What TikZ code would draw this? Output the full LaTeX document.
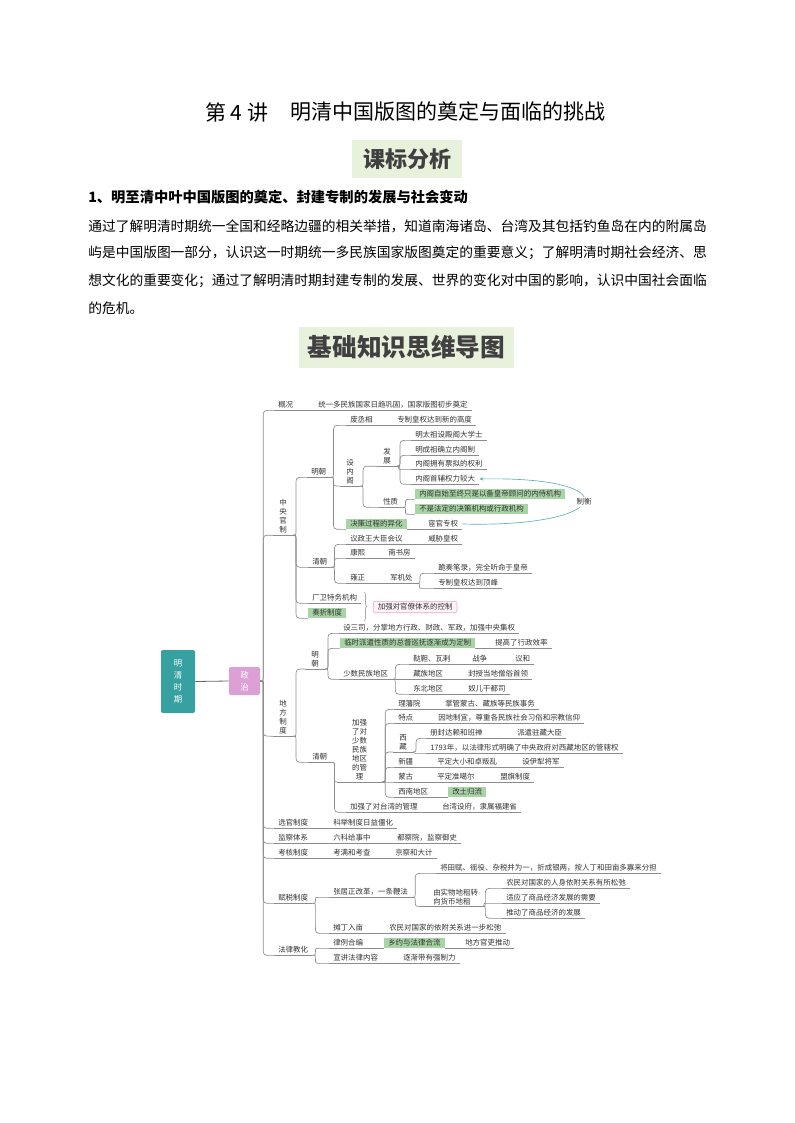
\documentclass[tikz,border=0pt]{standalone}
\usepackage{fontspec}
\newfontfamily\cjk{Noto Sans CJK SC}
\usetikzlibrary{calc,arrows.meta,decorations.pathreplacing}

\definecolor{linegray}{RGB}{140,140,140}
\definecolor{hlgreen}{RGB}{168,212,166}
\definecolor{rootteal}{RGB}{55,160,160}
\definecolor{polpink}{RGB}{220,160,215}
\definecolor{relteal}{RGB}{95,180,175}
\definecolor{bannergreen}{RGB}{232,241,220}
\definecolor{sumpink}{RGB}{230,170,205}
\definecolor{sumfill}{RGB}{253,243,248}
\newcommand\mapsize{\fontsize{5.6pt}{6.75pt}\selectfont}

\tikzset{
  uline/.style={draw=linegray, line width=0.5pt},
  tp/.style={font=\cjk\mapsize, text=black!80, inner xsep=3pt, inner ysep=0.9pt,
    text height=4.6pt, text depth=1.2pt, anchor=west},
  topic/.style={tp, append after command={(\tikzlastnode.south west) edge[uline] (\tikzlastnode.south east)}},
  twoline/.style={font=\cjk\mapsize, text=black!80, inner xsep=3pt, inner ysep=0.9pt, align=left, anchor=west,
    append after command={(\tikzlastnode.south west) edge[uline] (\tikzlastnode.south east)}},
  vtopic/.style={font=\cjk\mapsize, text=black!80, align=center, inner xsep=4.5pt, inner ysep=1.1pt,
    append after command={(\tikzlastnode.south west) edge[uline] (\tikzlastnode.south east)}},
  hl/.style={tp, fill=hlgreen},
  link/.style={draw=linegray, line width=0.5pt, to path={
    let \p1=(\tikztostart), \p2=(\tikztotarget),
        \n1={min(2.25,abs(\y2-\y1)/2)},
        \n2={max(0,min(6,abs(\y2-\y1)-\n1,\x2-\x1-\n1))},
        \n3={\y1+sign(\y2-\y1)*\n1},
        \n4={\y2-sign(\y2-\y1)*\n2} in
    (\p1) .. controls (\x1+\n1,\y1) .. (\x1+\n1,\n3)
    -- (\x1+\n1,\n4)
    .. controls (\x1+\n1,\y2) .. (\x1+\n1+\n2,\y2) -- (\p2)}},
  rel/.style={draw=relteal, line width=0.5pt, -{Stealth[length=3pt,width=2.6pt]}},
}

\begin{document}
\begin{tikzpicture}[x=0.75pt, y=-0.75pt]
\fill[white] (0,0) rectangle (794,1123);
\useasboundingbox (0,0) rectangle (794,1123);

% title and text
\node[anchor=west, inner sep=0, font=\cjk\fontsize{15.75pt}{18pt}\selectfont] (ti1) at (205,112) {第 4 讲};
\node[anchor=west, inner sep=0, font=\cjk\fontsize{15.75pt}{18pt}\selectfont] (ti2) at (290,112) {明清中国版图的奠定与面临的挑战};
\fill[bannergreen] (352,140) rectangle (462,178);
\node[font=\cjk\bfseries\fontsize{16.5pt}{18pt}\selectfont, text=black!75] (kb) at (407,159) {课标分析};
\node[anchor=west, inner sep=0, font=\cjk\bfseries\fontsize{10.7pt}{12pt}\selectfont] (hd) at (88,197) {1、明至清中叶中国版图的奠定、封建专制的发展与社会变动};
\node[anchor=west, inner sep=0, font=\cjk\fontsize{10.31pt}{12pt}\selectfont] (pa1) at (88,226) {通过了解明清时期统一全国和经略边疆的相关举措，知道南海诸岛、台湾及其包括钓鱼岛在内的附属岛};
\node[anchor=west, inner sep=0, font=\cjk\fontsize{10.31pt}{12pt}\selectfont] (pa2) at (88,253) {屿是中国版图一部分，认识这一时期统一多民族国家版图奠定的重要意义；了解明清时期社会经济、思};
\node[anchor=west, inner sep=0, font=\cjk\fontsize{10.31pt}{12pt}\selectfont] (pa3) at (88,281) {想文化的重要变化；通过了解明清时期封建专制的发展、世界的变化对中国的影响，认识中国社会面临};
\node[anchor=west, inner sep=0, font=\cjk\fontsize{10.31pt}{12pt}\selectfont] (pa4) at (88,308) {的危机。};
\fill[bannergreen] (299,327) rectangle (514,368);
\node[font=\cjk\bfseries\fontsize{18.5pt}{20pt}\selectfont, text=black!75] (jc) at (406.5,347.5) {基础知识思维导图};

% root and main branch
\node[fill=rootteal, text=white, align=center, font=\cjk\fontsize{6.3pt}{9pt}\selectfont,
  minimum width=25.5pt, minimum height=47.25pt, inner sep=0, rounded corners=1.5pt] (root) at (178,681.5) {明\\清\\时\\期};
\node[fill=polpink, text=white, align=center, font=\cjk\fontsize{6.3pt}{9pt}\selectfont,
  minimum width=23.25pt, minimum height=21pt, inner sep=0, rounded corners=1.5pt] (zhengzhi) at (244.5,681) {政\\治};
\draw[draw=black!60, line width=0.6pt] (root.east) -- (zhengzhi.west);

% level 1
\node[topic] (gk) at (274,405) {概况};
\node[vtopic] (zy) at (283,516.5) {中\\央\\官\\制};
\node[vtopic] (df) at (283,717.5) {地\\方\\制\\度};
\node[topic] (xg) at (274,823) {选官制度};
\node[topic] (jcs) at (274,838) {监察体系};
\node[topic] (kh) at (274,853) {考核制度};
\node[topic] (fs) at (274,898) {赋税制度};
\node[topic] (fl) at (274,950) {法律教化};
\foreach \c in {gk,zy,df,xg,jcs,kh,fs,fl}
  \draw[link] (zhengzhi.east) to (\c.south west);

% 概况
\node[topic] (gk1) at (314,405) {统一多民族国家日趋巩固，国家版图初步奠定};
\draw[link] (gk.south east) to (gk1.south west);

% 中央官制
\node[topic] (zm) at (307,472) {明朝};
\node[topic] (zq) at (308,562) {清朝};
\node[topic] (cw) at (308,598) {厂卫特务机构};
\node[hl] (zz) at (308,613) {奏折制度};
\foreach \c in {zm,zq,cw,zz}
  \draw[link] (zy.south east) to (\c.south west);

\node[topic] (zm1) at (346,420) {废丞相};
\node[topic] (zm11) at (393,420) {专制皇权达到新的高度};
\node[vtopic] (zm2) at (350,472) {设\\内\\阁};
\node[hl] (zm3) at (346,524) {决策过程的异化};
\node[topic] (zm31) at (424,524) {宦官专权};
\foreach \c in {zm1,zm2,zm3}
  \draw[link] (zm.south east) to (\c.south west);
\draw[link] (zm1.south east) to (zm11.south west);
\draw[link] (zm3.south east) to (zm31.south west);

\node[vtopic] (zm21) at (387,456.5) {发\\展};
\node[topic] (zm22) at (379,502) {性质};
\draw[link] (zm2.south east) to (zm21.south west);
\draw[link] (zm2.south east) to (zm22.south west);
\node[topic] (zm211) at (411,435) {明太祖设殿阁大学士};
\node[topic] (zm212) at (411,450) {明成祖确立内阁制};
\node[topic] (zm213) at (411,464) {内阁拥有票拟的权利};
\node[topic] (zm214) at (411,479) {内阁首辅权力较大};
\foreach \c in {zm211,zm212,zm213,zm214}
  \draw[link] (zm21.south east) to (\c.south west);
\node[hl] (zm221) at (415,494) {内阁自始至终只是以备皇帝顾问的内侍机构};
\node[hl] (zm222) at (415,509) {不是法定的决策机构或行政机构};
\draw[link] (zm22.south east) to (zm221.south west);
\draw[link] (zm22.south east) to (zm222.south west);

% 制衡
\draw[rel] (zm31.east) .. controls +(151,4) and +(151,-3) .. (zm214.east)
  node[pos=0.5, fill=white, inner sep=1pt, font=\cjk\mapsize, text=black!80] (zh) {制衡};

\node[topic] (zq1) at (346,539) {议政王大臣会议};
\node[topic] (zq11) at (424,539) {威胁皇权};
\node[topic] (zq2) at (346,553) {康熙};
\node[topic] (zq21) at (384,553) {南书房};
\node[topic] (zq3) at (346,578) {雍正};
\node[topic] (zq31) at (386,578) {军机处};
\node[topic] (zq311) at (434,568) {跪奏笔录，完全听命于皇帝};
\node[topic] (zq312) at (434,583) {专制皇权达到顶峰};
\foreach \c in {zq1,zq2,zq3}
  \draw[link] (zq.south east) to (\c.south west);
\draw[link] (zq1.south east) to (zq11.south west);
\draw[link] (zq2.south east) to (zq21.south west);
\draw[link] (zq3.south east) to (zq31.south west);
\draw[link] (zq31.south east) to (zq311.south west);
\draw[link] (zq31.south east) to (zq312.south west);

% summary
\draw[draw=black!35, line width=0.5pt, decorate, decoration={brace, amplitude=2.2pt}] (364,592) -- (364,621);
\node[tp, draw=sumpink, fill=sumfill, rounded corners=1.5pt, inner xsep=3.4pt, inner ysep=1.4pt] (sum) at (373,607) {加强对官僚体系的控制};

% 地方制度
\node[vtopic] (dm) at (315,659.5) {明\\朝};
\node[topic] (dq) at (308,757) {清朝};
\draw[link] (df.south east) to (dm.south west);
\draw[link] (df.south east) to (dq.south west);

\node[topic] (dm1) at (339,628) {设三司，分掌地方行政、财政、军政，加强中央集权};
\node[hl] (dm2) at (340,643) {临时派遣性质的总督巡抚逐渐成为定制};
\node[topic] (dm21) at (491,643) {提高了行政效率};
\node[topic] (dm3) at (339,674) {少数民族地区};
\foreach \c in {dm1,dm2,dm3}
  \draw[link] (dm.south east) to (\c.south west);
\draw[link] (dm2.south east) to (dm21.south west);
\node[topic] (dm31) at (409,659) {鞑靼、瓦剌};
\node[topic] (dm311) at (468,659) {战争};
\node[topic] (dm3111) at (511,659) {议和};
\node[topic] (dm32) at (409,674) {藏族地区};
\node[topic] (dm321) at (464,674) {封授当地僧俗首领};
\node[topic] (dm33) at (409,689) {东北地区};
\node[topic] (dm331) at (464,689) {奴儿干都司};
\foreach \c in {dm31,dm32,dm33}
  \draw[link] (dm3.south east) to (\c.south west);
\draw[link] (dm31.south east) to (dm311.south west);
\draw[link] (dm311.south east) to (dm3111.south west);
\draw[link] (dm32.south east) to (dm321.south west);
\draw[link] (dm33.south east) to (dm331.south west);

\node[vtopic, inner xsep=11.25pt] (dq1) at (359.5,750) {加强\\了对\\少数\\民族\\地区\\的管\\理};
\node[topic] (dq2) at (346,807) {加强了对台湾的管理};
\node[topic] (dq21) at (438,807) {台湾设府，隶属福建省};
\draw[link] (dq.south east) to (dq1.south west);
\draw[link] (dq.south east) to (dq2.south west);
\draw[link] (dq2.south east) to (dq21.south west);

\node[topic] (dq11) at (394,704) {理藩院};
\node[topic] (dq111) at (441,704) {掌管蒙古、藏族等民族事务};
\node[topic] (dq12) at (394,718) {特点};
\node[topic] (dq121) at (434,718) {因地制宜，尊重各民族社会习俗和宗教信仰};
\node[vtopic] (dq13) at (403,742.5) {西\\藏};
\node[topic] (dq131) at (426,733) {册封达赖和班禅};
\node[topic] (dq1311) at (513,733) {派遣驻藏大臣};
\node[topic] (dq132) at (426,748) {1793年，以法律形式明确了中央政府对西藏地区的管辖权};
\node[topic] (dq14) at (394,762) {新疆};
\node[topic] (dq141) at (433,762) {平定大小和卓叛乱};
\node[topic] (dq1411) at (518,762) {设伊犁将军};
\node[topic] (dq15) at (394,777) {蒙古};
\node[topic] (dq151) at (433,777) {平定准噶尔};
\node[topic] (dq1511) at (496,777) {盟旗制度};
\node[topic] (dq16) at (394,792) {西南地区};
\node[hl] (dq161) at (448,792) {改土归流};
\foreach \c in {dq11,dq12,dq13,dq14,dq15,dq16}
  \draw[link] (dq1.south east) to (\c.south west);
\draw[link] (dq11.south east) to (dq111.south west);
\draw[link] (dq12.south east) to (dq121.south west);
\draw[link] (dq13.south east) to (dq131.south west);
\draw[link] (dq13.south east) to (dq132.south west);
\draw[link] (dq131.south east) to (dq1311.south west);
\draw[link] (dq14.south east) to (dq141.south west);
\draw[link] (dq141.south east) to (dq1411.south west);
\draw[link] (dq15.south east) to (dq151.south west);
\draw[link] (dq151.south east) to (dq1511.south west);
\draw[link] (dq16.south east) to (dq161.south west);

% 选官, 监察, 考核
\node[topic] (xg1) at (329,823) {科举制度日益僵化};
\node[topic] (jc1) at (329,838) {六科给事中};
\node[topic] (jc2) at (393,838) {都察院，监察御史};
\node[topic] (kh1) at (329,853) {考满和考查};
\node[topic] (kh2) at (391,853) {京察和大计};
\draw[link] (xg.south east) to (xg1.south west);
\draw[link] (jcs.south east) to (jc1.south west);
\draw[link] (jc1.south east) to (jc2.south west);
\draw[link] (kh.south east) to (kh1.south west);
\draw[link] (kh1.south east) to (kh2.south west);

% 赋税制度
\node[topic] (fs1) at (329,892) {张居正改革，一条鞭法};
\node[topic] (fs11) at (436,868) {将田赋、徭役、杂税并为一，折成银两，按人丁和田亩多寡来分担};
\node[twoline] (fs12) at (429,897) {由实物地租转\\向货币地租};
\node[topic] (fs121) at (502,883) {农民对国家的人身依附关系有所松弛};
\node[topic] (fs122) at (502,898) {适应了商品经济发展的需要};
\node[topic] (fs123) at (502,913) {推动了商品经济的发展};
\node[topic] (fs2) at (329,928) {摊丁入亩};
\node[topic] (fs21) at (385,928) {农民对国家的依附关系进一步松弛};
\draw[link] (fs.south east) to (fs1.south west);
\draw[link] (fs.south east) to (fs2.south west);
\draw[link] (fs1.south east) to (fs11.south west);
\draw[link] (fs1.south east) to (fs12.south west);
\foreach \c in {fs121,fs122,fs123}
  \draw[link] (fs12.south east) to (\c.south west);
\draw[link] (fs2.south east) to (fs21.south west);

% 法律教化
\node[topic] (fl1) at (329,943) {律例合编};
\node[hl] (fl11) at (384,943) {乡约与法律合流};
\node[topic] (fl12) at (461,943) {地方官吏推动};
\node[topic] (fl2) at (329,958) {宣讲法律内容};
\node[topic] (fl21) at (399,958) {逐渐带有强制力};
\draw[link] (fl.south east) to (fl1.south west);
\draw[link] (fl.south east) to (fl2.south west);
\draw[link] (fl1.south east) to (fl11.south west);
\draw[link] (fl11.south east) to (fl12.south west);
\draw[link] (fl2.south east) to (fl21.south west);
\end{tikzpicture}
\end{document}
